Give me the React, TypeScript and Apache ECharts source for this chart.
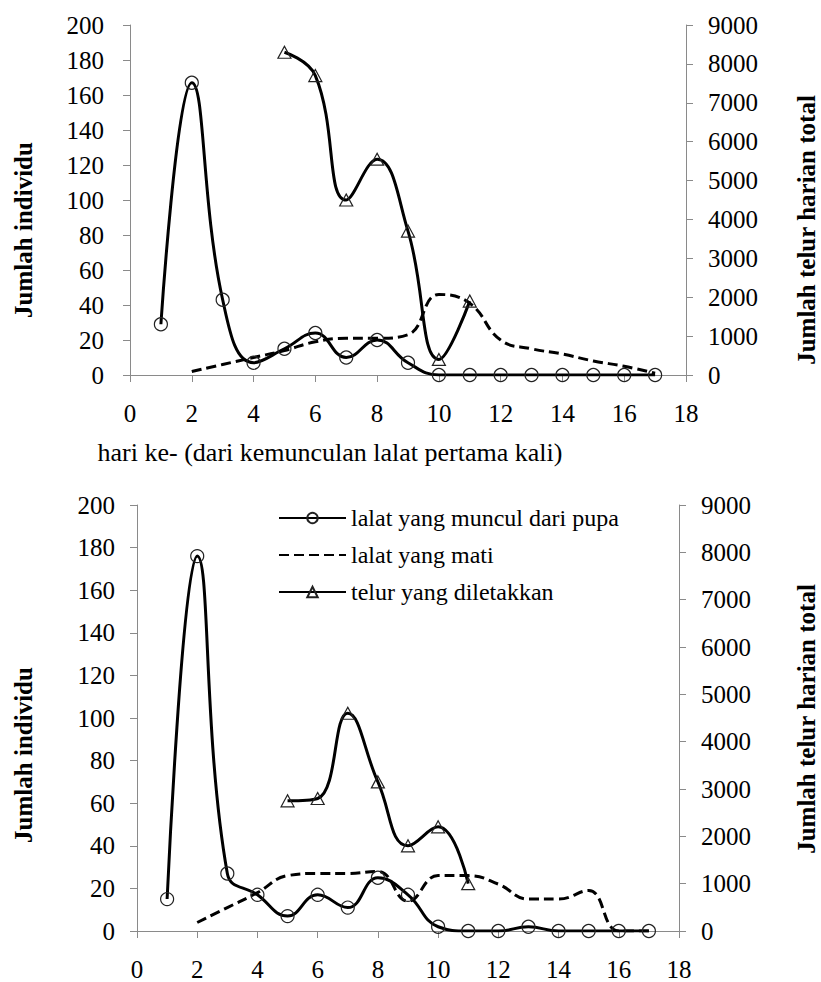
import React, { useEffect, useRef } from "react";
import * as echarts from "echarts";

// ---- data ----
const days = [1, 2, 3, 4, 5, 6, 7, 8, 9, 10, 11, 12, 13, 14, 15, 16, 17];
const deadDays = [2, 3, 4, 5, 6, 7, 8, 9, 10, 11, 12, 13, 14, 15, 16, 17];
const eggDays = [5, 6, 7, 8, 9, 10, 11];

// top panel
const topEmerged = [29, 167, 43, 7, 15, 24, 10, 20, 7, 0, 0, 0, 0, 0, 0, 0, 0];
const topDead = [2, 6, 10, 14, 19, 21, 21, 23, 46, 41, 20, 15, 12, 8, 5, 1];
const topEggs = [8300, 7700, 4500, 5550, 3700, 400, 1900];

// bottom panel
const botEmerged = [15, 176, 27, 17, 7, 17, 11, 25, 17, 2, 0, 0, 2, 0, 0, 0, 0];
const botDead = [4, 11, 18, 26, 27, 27, 28, 14, 26, 26, 22, 15, 15, 19, 0, 0];
const botEggs = [2750, 2800, 4600, 3150, 1800, 2200, 1000];

const seriesNames = [
  "lalat yang muncul dari pupa",
  "lalat yang mati",
  "telur yang diletakkan",
];
const leftTitle = "Jumlah individu";
const rightTitle = "Jumlah telur harian total";
const xTitle = "hari ke- (dari kemunculan lalat pertama kali)";

const FONT = "Liberation Serif";
const AXIS_GRAY = "#8a8a8a";

const pairs = (xs: number[], ys: number[]) => ys.map((v, i) => [xs[i], v]);

function makeAxes(gridIndex: number, leftMargin: number) {
  const common = {
    gridIndex,
    axisLine: { show: true, lineStyle: { color: AXIS_GRAY, width: 1 } },
    axisTick: { show: true, inside: false, length: 7, lineStyle: { color: AXIS_GRAY } },
    splitLine: { show: false },
  };
  const lbl = { color: "#000", fontFamily: FONT, fontSize: 25, formatter: (v: number) => String(v) };
  const x = {
    ...common,
    type: "value",
    min: 0,
    max: 18,
    interval: 2,
    axisLabel: { ...lbl, margin: 26 },
  };
  const yl = {
    ...common,
    type: "value",
    position: "left",
    min: 0,
    max: 200,
    interval: 20,
    axisLabel: { ...lbl, margin: leftMargin },
  };
  const yr = {
    ...common,
    type: "value",
    position: "right",
    min: 0,
    max: 9000,
    interval: 1000,
    axisLabel: { ...lbl, margin: 22 },
  };
  return { x, yl, yr };
}

function makeSeries(
  xi: number,
  ylIdx: number,
  yrIdx: number,
  emerged: number[],
  dead: number[],
  eggs: number[]
) {
  return [
    {
      name: seriesNames[0],
      type: "line",
      xAxisIndex: xi,
      yAxisIndex: ylIdx,
      data: pairs(days, emerged),
      smooth: 0.45,
      symbol: "circle",
      symbolSize: 13,
      lineStyle: { color: "#000", width: 3 },
      itemStyle: { color: "rgba(255,255,255,0)", borderColor: "#222", borderWidth: 1.2 },
      z: 3,
    },
    {
      name: seriesNames[1],
      type: "line",
      xAxisIndex: xi,
      yAxisIndex: ylIdx,
      data: pairs(deadDays, dead),
      smooth: 0.45,
      showSymbol: false,
      symbol: "none",
      lineStyle: { color: "#000", width: 3, type: [10, 5] },
      itemStyle: { color: "#000" },
      z: 2,
    },
    {
      name: seriesNames[2],
      type: "line",
      xAxisIndex: xi,
      yAxisIndex: yrIdx,
      data: pairs(eggDays, eggs),
      smooth: 0.45,
      symbol: "triangle",
      symbolSize: [13, 12],
      lineStyle: { color: "#000", width: 3 },
      itemStyle: { color: "rgba(255,255,255,0)", borderColor: "#222", borderWidth: 1.2 },
      z: 4,
    },
  ];
}

function vText(text: string, x: number, y: number) {
  return {
    type: "text",
    x,
    y,
    rotation: Math.PI / 2,
    style: {
      text,
      fontFamily: FONT,
      fontWeight: "bold",
      fontSize: 25,
      lineHeight: 24,
      fill: "#000",
      align: "center",
      verticalAlign: "middle",
    },
  };
}

export default function App() {
  const ref = useRef<HTMLDivElement>(null);
  useEffect(() => {
    document.body.style.margin = "0";
    if (!ref.current) return;
    const chart = echarts.init(ref.current, undefined, { renderer: "svg" });
    const top = makeAxes(0, 26);
    const bot = makeAxes(1, 22);
    chart.setOption({
      animation: false,
      backgroundColor: "#fff",
      textStyle: { fontFamily: FONT },
      grid: [
        { left: 130, top: 25, width: 556, height: 350 },
        { left: 137, top: 505, width: 542, height: 427 },
      ],
      xAxis: [top.x, bot.x],
      yAxis: [top.yl, top.yr, bot.yl, bot.yr],
      legend: {
        data: [
          { name: seriesNames[0] },
          { name: seriesNames[1], itemStyle: { color: "rgba(0,0,0,0)", borderWidth: 0 } },
          { name: seriesNames[2] },
        ],
        orient: "vertical",
        left: 278,
        top: 506,
        padding: 0,
        itemWidth: 67,
        itemHeight: 13,
        itemGap: 13,
        selectedMode: false,
        textStyle: { fontFamily: FONT, fontSize: 24, color: "#000", lineHeight: 24 },
      },
      series: [
        ...makeSeries(0, 0, 1, topEmerged, topDead, topEggs),
        ...makeSeries(1, 2, 3, botEmerged, botDead, botEggs),
      ],
      graphic: [
        vText(leftTitle, 23, 230),
        vText(rightTitle, 806, 230),
        vText(leftTitle, 23, 755),
        vText(rightTitle, 806, 719),
        {
          type: "text",
          x: 330,
          y: 452,
          style: {
            text: xTitle,
            fontFamily: FONT,
            fontSize: 26,
            fill: "#000",
            align: "center",
            verticalAlign: "middle",
          },
        },
      ],
    });
    return () => chart.dispose();
  }, []);
  return <div ref={ref} style={{ width: 821, height: 982 }} />;
}
